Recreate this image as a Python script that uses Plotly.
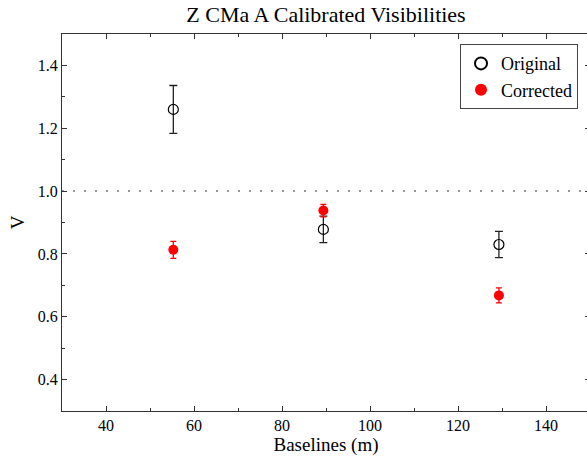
import plotly.graph_objects as go

baselines = [55.3, 89.4, 129.3]
v_original = [1.26, 0.878, 0.83]
err_original = [0.076, 0.042, 0.042]
v_corrected = [0.813, 0.938, 0.668]
err_corrected = [0.027, 0.02, 0.024]
reference_v = 1.0

x_ticks = [40, 60, 80, 100, 120, 140]
y_ticks = [0.4, 0.6, 0.8, 1.0, 1.2, 1.4]
y_tick_text = ["0.4", "0.6", "0.8", "1.0", "1.2", "1.4"]

FONT = "Liberation Serif"
AX = "#333333"
FIG_W = 590  # slightly wider than the 587 px window so the right frame line falls just outside

fig = go.Figure()
fig.add_trace(go.Scatter(
    x=baselines, y=v_original, mode="markers", name="Original",
    marker=dict(symbol="circle-open", size=10, color="black", line=dict(width=1.2, color="black")),
    error_y=dict(type="data", array=err_original, color="#222222", thickness=1.3, width=4),
))
fig.add_trace(go.Scatter(
    x=baselines, y=v_corrected, mode="markers", name="Corrected",
    marker=dict(symbol="circle", size=10, color="red"),
    error_y=dict(type="data", array=err_corrected, color="red", thickness=1.3, width=3),
))

fig.add_shape(type="line", xref="paper", x0=0, x1=1, yref="y", y0=reference_v, y1=reference_v,
              line=dict(color="#777777", width=1.5, dash="2px,9px"), layer="below")

fig.update_layout(
    width=FIG_W, height=461,
    margin=dict(l=62, r=0, t=34, b=50),
    paper_bgcolor="white", plot_bgcolor="white",
    font=dict(family=FONT, size=16, color="black"),
    title=dict(text="Z CMa A Calibrated Visibilities", x=0.5 + 31 / FIG_W, xanchor="center",
               y=1 - 14 / 461, yanchor="middle", font=dict(size=22, family=FONT, color="black")),
    xaxis=dict(range=[30, 150], tickvals=x_ticks, ticks="inside", ticklen=5, tickwidth=1,
               tickcolor=AX, showline=True, linecolor=AX, linewidth=1, mirror="ticks",
               showgrid=False, zeroline=False,
               minor=dict(dtick=10, tick0=0, ticks="inside", ticklen=3, tickcolor=AX, showgrid=False),
               title=dict(text="Baselines (m)", font=dict(size=19, family=FONT), standoff=4),
               tickfont=dict(size=16, family=FONT)),
    yaxis=dict(range=[0.3, 1.5], tickvals=y_ticks, ticktext=y_tick_text, ticks="inside", ticklen=5,
               tickwidth=1, tickcolor=AX, showline=True, linecolor=AX, linewidth=1, mirror="ticks",
               showgrid=False, zeroline=False,
               minor=dict(dtick=0.1, tick0=0, ticks="inside", ticklen=3, tickcolor=AX, showgrid=False),
               title=dict(text="V", font=dict(size=19, family=FONT), standoff=8),
               tickfont=dict(size=16, family=FONT)),
    legend=dict(x=(578 - 62) / (FIG_W - 62), xanchor="right", y=0.973, yanchor="top", bgcolor="white",
                bordercolor="#444444", borderwidth=1, font=dict(size=18, family=FONT),
                itemsizing="constant", tracegroupgap=0, itemwidth=30),
    showlegend=True,
)

fig.write_html("out.html", config={"displayModeBar": False},
               post_script="document.documentElement.style.overflow='hidden';"
                           "document.body.style.margin='0';document.body.style.overflow='hidden';")
